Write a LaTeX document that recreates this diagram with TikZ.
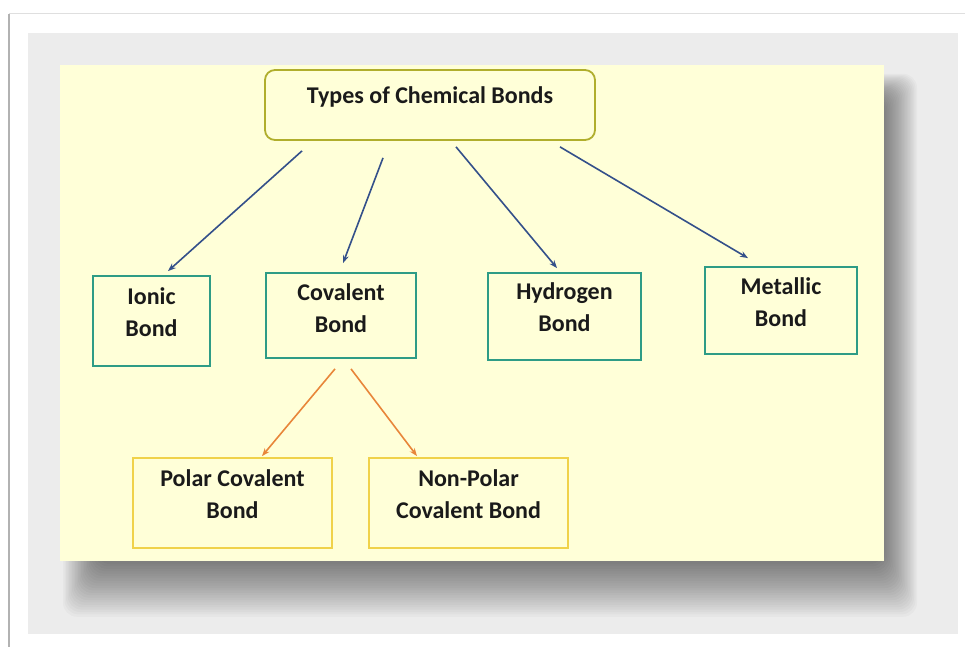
\documentclass[tikz,border=0pt]{standalone}
\usepackage{fontspec}
\setmainfont{Carlito}
\usetikzlibrary{arrows.meta,calc}
\definecolor{panelcol}{HTML}{ECECEC}
\definecolor{cardcol}{HTML}{FFFFD8}
\definecolor{titlebd}{HTML}{B0AE2C}
\definecolor{tealbd}{HTML}{2E9C86}
\definecolor{yelbd}{HTML}{F0D24A}
\definecolor{bluearr}{HTML}{34508A}
\definecolor{orarr}{HTML}{E8863A}
\definecolor{txt}{HTML}{1A1A1A}
\begin{document}
\begin{tikzpicture}[x=1pt,y=-1pt,
  tealbox/.style={draw=tealbd,line width=1.8pt,fill=cardcol,inner sep=0pt},
  yelbox/.style={draw=yelbd,line width=1.8pt,fill=cardcol,inner sep=0pt},
  boxtext/.style={align=center,font=\bfseries\fontsize{24}{32}\selectfont,text=txt,inner sep=0pt},
  bluearrow/.style={draw=bluearr,line width=1.6pt,-{Stealth[length=8pt,width=6pt]}},
  orarrow/.style={draw=orarr,line width=1.6pt,-{Stealth[length=8pt,width=6pt]}}]
\useasboundingbox (0,0) rectangle (965,647);
\fill[white] (0,0) rectangle (965,647);
\draw[gray!25,line width=1pt] (9,14) -- (965,14);
\draw[gray!60,line width=1.6pt] (9,14) -- (9,647);
\fill[panelcol] (28,33) rectangle (958,634);
% shadow of the card
\foreach \i in {0,...,22}{
  \fill[black,opacity=0.025,rounded corners=14pt] (96-1.5*\i,98-1.1*\i) rectangle (884+1.5*\i,564+2.4*\i);
}
\fill[cardcol] (60,65) rectangle (884,561);
% title
\node[draw=titlebd,line width=1.8pt,rounded corners=10pt,fill=cardcol,minimum width=330pt,minimum height=70pt,inner sep=0pt] (title) at (430,105) {};
\node[boxtext] (titleT) at ([yshift=8pt]title.center) {Types of Chemical Bonds};
% second level
\node[tealbox,minimum width=117pt,minimum height=90pt] (ionic) at (151.5,321) {};
\node[boxtext] (ionicT) at ([yshift=9pt]ionic.center) {Ionic\\Bond};
\node[tealbox,minimum width=150pt,minimum height=85pt] (covalent) at (341,315.5) {};
\node[boxtext] (covalentT) at ([yshift=7pt]covalent.center) {Covalent\\Bond};
\node[tealbox,minimum width=153pt,minimum height=87pt] (hydrogen) at (564.5,316.5) {};
\node[boxtext] (hydrogenT) at ([yshift=9pt]hydrogen.center) {Hydrogen\\Bond};
\node[tealbox,minimum width=152pt,minimum height=87pt] (metallic) at (781,310.5) {};
\node[boxtext] (metallicT) at ([yshift=8pt]metallic.center) {Metallic\\Bond};
% third level
\node[yelbox,minimum width=199pt,minimum height=90pt] (polar) at (232.5,503) {};
\node[boxtext] (polarT) at ([yshift=9pt]polar.center) {Polar Covalent\\Bond};
\node[yelbox,minimum width=199pt,minimum height=90pt] (nonpolar) at (468.5,503) {};
\node[boxtext] (nonpolarT) at ([yshift=9pt]nonpolar.center) {Non-Polar\\Covalent Bond};
% connectors
\draw[bluearrow] ([xshift=-128pt,yshift=-10pt]title.south) -- ([xshift=16.5pt,yshift=4pt]ionic.north);
\draw[bluearrow] ([xshift=-47pt,yshift=-17pt]title.south) -- ([xshift=2pt,yshift=9pt]covalent.north);
\draw[bluearrow] ([xshift=26pt,yshift=-6pt]title.south) -- ([xshift=-7.5pt,yshift=4pt]hydrogen.north);
\draw[bluearrow] ([xshift=130pt,yshift=-6pt]title.south) -- ([xshift=-33pt,yshift=8pt]metallic.north);
\draw[orarrow] ([xshift=-6pt,yshift=-10pt]covalent.south) -- ([xshift=29.5pt,yshift=1pt]polar.north);
\draw[orarrow] ([xshift=10pt,yshift=-10pt]covalent.south) -- ([xshift=-51.5pt,yshift=1pt]nonpolar.north);
\end{tikzpicture}
\end{document}
